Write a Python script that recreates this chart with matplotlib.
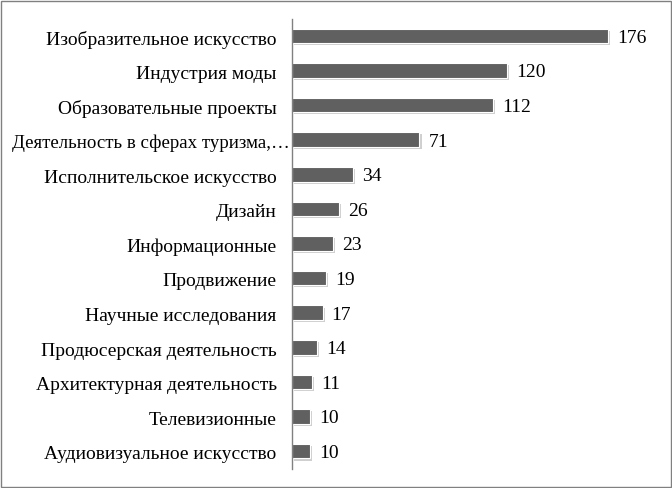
import matplotlib.pyplot as plt
import matplotlib.patheffects as pe

categories = [
    "Изобразительное искусство",
    "Индустрия моды",
    "Образовательные проекты",
    "Деятельность в сферах туризма,…",
    "Исполнительское искусство",
    "Дизайн",
    "Информационные",
    "Продвижение",
    "Научные исследования",
    "Продюсерская деятельность",
    "Архитектурная деятельность",
    "Телевизионные",
    "Аудиовизуальное искусство",
]
values = [176, 120, 112, 71, 34, 26, 23, 19, 17, 14, 11, 10, 10]

plt.rcParams['font.family'] = ['Liberation Serif', 'DejaVu Serif']

fig = plt.figure(figsize=(6.72, 4.89), dpi=100)
W, H = 672, 489
ax = fig.add_axes([292 / W, 1 - 469.5 / H, 360 / W, 450 / H])

pos = list(range(len(categories)))
bars = ax.barh(pos, values, height=0.42, color='#606060', edgecolor='white',
               linewidth=0.8)
for b in bars:
    b.set_path_effects([pe.SimplePatchShadow(offset=(1.5, -1.5), shadow_rgbFace='#b0b0b0', alpha=0.6),
                        pe.Normal()])

ax.set_ylim(len(categories) - 0.5, -0.5)
ax.set_xlim(0, 360 / 1.795)
ax.set_yticks([])
ax.set_xticks([])
for s in ['top', 'right', 'bottom']:
    ax.spines[s].set_visible(False)
ax.spines['left'].set_color('#808080')
ax.spines['left'].set_linewidth(1)

# category labels (the truncated one runs up to the axis, as in the original)
for p, c in zip(pos, categories):
    long = c.endswith('…')
    ax.annotate(c, (0, p), xytext=(-1.5 if long else -11, -2),
                textcoords='offset points', va='center', ha='right',
                fontsize=13.6 if long else 14, annotation_clip=False)

for p, v in zip(pos, values):
    ax.annotate(str(v), (v, p), xytext=(6.5, -1), textcoords='offset points',
                va='center', ha='left', fontsize=14)

fig.patches.append(plt.Rectangle((0.5 / W, 1.5 / H), 1 - 1.5 / W, 1 - 3 / H,
                                 transform=fig.transFigure, fill=False,
                                 edgecolor='#808080', linewidth=1))

fig.savefig('out.png', dpi=100)
